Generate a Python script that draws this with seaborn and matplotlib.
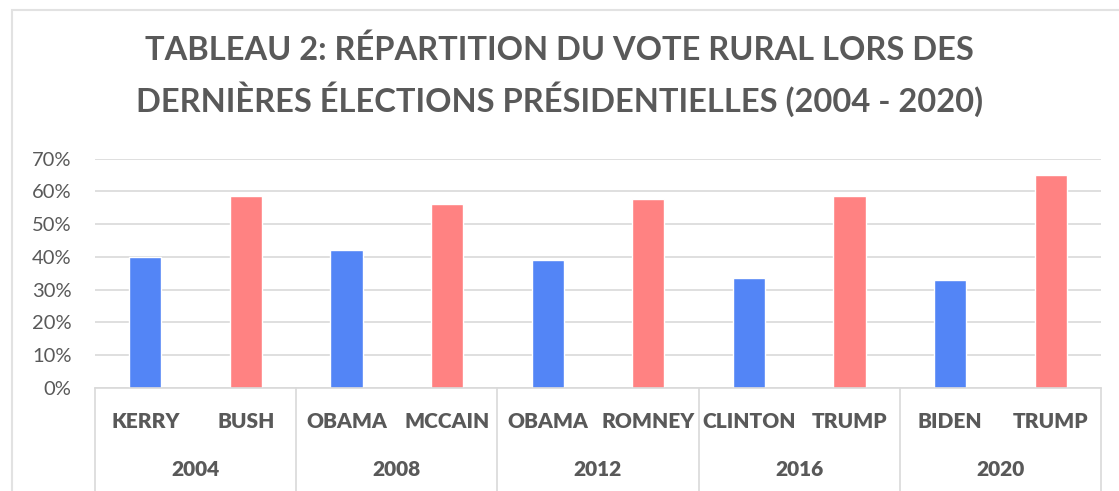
import matplotlib
matplotlib.use('Agg')
import matplotlib.pyplot as plt
import matplotlib.patches as mpatches
import matplotlib.ticker as mticker
import seaborn as sns
import pandas as pd

# data
years = ['2004', '2008', '2012', '2016', '2020']
candidates = ['KERRY', 'BUSH', 'OBAMA', 'MCCAIN', 'OBAMA', 'ROMNEY',
              'CLINTON', 'TRUMP', 'BIDEN', 'TRUMP']
parties = ['Dem', 'Rep'] * 5
rural_vote = [0.40, 0.585, 0.42, 0.56, 0.39, 0.575, 0.335, 0.585, 0.33, 0.65]
y_ticks = [0, 0.1, 0.2, 0.3, 0.4, 0.5, 0.6, 0.7]

df = pd.DataFrame({'slot': list(range(len(candidates))),
                   'candidate': candidates,
                   'party': parties,
                   'vote': rural_vote})

sns.set_style('white')
plt.rcParams['font.family'] = ['Lato', 'DejaVu Sans']
text_col = '#595959'
grid_col = '#d9d9d9'

W, H = 1119, 491
fig = plt.figure(figsize=(W / 100, H / 100), dpi=100)
left, right, bottom, top = 95, 1101, 388, 158.5
ax = fig.add_axes([left / W, 1 - bottom / H, (right - left) / W, (bottom - top) / H])

sns.barplot(data=df, x='slot', y='vote', hue='party', dodge=False, width=0.32,
            palette={'Dem': '#5385f6', 'Rep': '#ff8282'}, legend=False,
            saturation=1, ax=ax)

ax.set_ylim(0, 0.7)
ax.set_xlim(-0.5, len(candidates) - 0.5)
ax.set_yticks(y_ticks)
ax.yaxis.set_major_formatter(mticker.PercentFormatter(1.0, decimals=0))
ax.tick_params(axis='y', length=0, labelsize=14.5, labelcolor=text_col, pad=17)
ax.set_xticks([])
ax.set_xlabel('')
ax.set_ylabel('')
ax.grid(axis='y', color=grid_col, linewidth=1.2)
ax.set_axisbelow(True)
for s in ['top', 'right', 'left']:
    ax.spines[s].set_visible(False)
ax.spines['bottom'].set_color(grid_col)
ax.spines['bottom'].set_linewidth(1.2)

# two-level category axis
trans = ax.get_xaxis_transform()
depth = (H - bottom + 5) / (bottom - top)
for b in range(len(years) + 1):
    xb = 2 * b - 0.5
    ax.plot([xb, xb], [0, -depth], color=grid_col, lw=1.2, transform=trans, clip_on=False)
cand_y = -(422 - bottom) / (bottom - top)
year_y = -(469 - bottom) / (bottom - top)
for i, c in enumerate(candidates):
    ax.text(i, cand_y, c, transform=trans, ha='center', va='center',
            fontsize=15, fontweight='heavy', color=text_col)
for j, yr in enumerate(years):
    ax.text(2 * j + 0.5, year_y, yr, transform=trans, ha='center', va='center',
            fontsize=15, fontweight='heavy', color=text_col)

# outer chart frame
fig.patches.append(mpatches.Rectangle((12 / W, -0.1), 1.2, 1 - 10 / H + 0.1,
                                      transform=fig.transFigure, fill=False,
                                      edgecolor='#e2e2e2', lw=1.5))

fig.text(0.5, 1 - 76 / H,
         'TABLEAU 2: RÉPARTITION DU VOTE RURAL LORS DES\nDERNIÈRES ÉLECTIONS PRÉSIDENTIELLES (2004 - 2020)',
         ha='center', va='center', fontsize=23.5, fontweight='bold', color=text_col,
         linespacing=1.55)

fig.savefig('out.png', dpi=100)
